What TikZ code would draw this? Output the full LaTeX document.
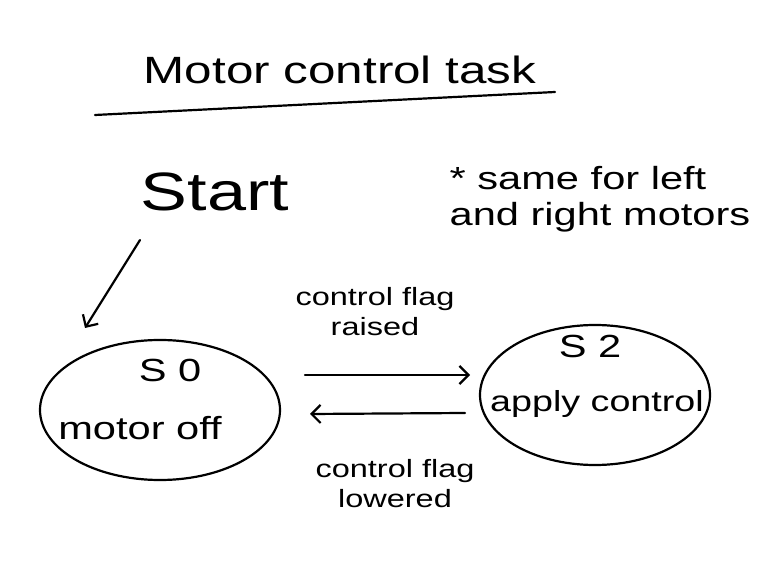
\documentclass[tikz,border=0pt]{standalone}
\usepackage{fontspec}
\setmainfont[FakeStretch=1.3]{Liberation Sans}
\usetikzlibrary{shapes.geometric,arrows.meta}
\begin{document}
\begin{tikzpicture}[x=1pt,y=1pt,
  hand/.style={line width=2.2pt,line cap=round,black},
  arr/.style={hand,-{Straight Barb[length=9pt,width=18pt,line width=2.2pt]}},
  state/.style={ellipse,draw,line width=2.2pt,inner sep=0pt},
  big/.style={font=\fontsize{38}{42}\selectfont},
  huge/.style={font=\fontsize{54}{60}\selectfont},
  mid/.style={font=\fontsize{32}{36}\selectfont},
  small/.style={font=\fontsize{25}{30}\selectfont,align=center}]
\useasboundingbox (0,0) rectangle (782,584);
% title
\node[big] (title) at (340,514) {Motor control task};
\coordinate (ul1) at (95,469);
\coordinate (ul2) at (555,492);
\draw[hand] (ul1) -- (ul2);
% start
\node[huge] (start) at (215,392) {Start};
\node[align=left,font=\fontsize{32}{36}\selectfont] (note) at (600,385) {* same for left\\and right motors};
% states
\node[state,minimum width=240pt,minimum height=140pt] (s0) at (160,174) {};
\node[mid] (s0a) at (170,214) {S 0};
\node[mid] (s0b) at (140,156) {motor off};
\node[state,minimum width=230pt,minimum height=140pt] (s2) at (595,189) {};
\node[mid] (s2a) at (590,238) {S 2};
\node[mid,font=\fontsize{29}{34}\selectfont] (s2b) at (597,180) {apply control};
% connectors
\coordinate (sa1) at (140,344);
\coordinate (sa2) at (85,256);
\draw[arr] (sa1) -- (sa2);
\coordinate (t1) at (305,209);
\coordinate (t2) at (470,209);
\coordinate (b1) at (465,171);
\coordinate (b2) at (310,170);
\draw[arr] (t1) -- (t2);
\draw[arr] (b1) -- (b2);
\node[small] (lab1) at (375,272) {control flag\\raised};
\node[small] (lab2) at (395,100) {control flag\\lowered};
\end{tikzpicture}
\end{document}
